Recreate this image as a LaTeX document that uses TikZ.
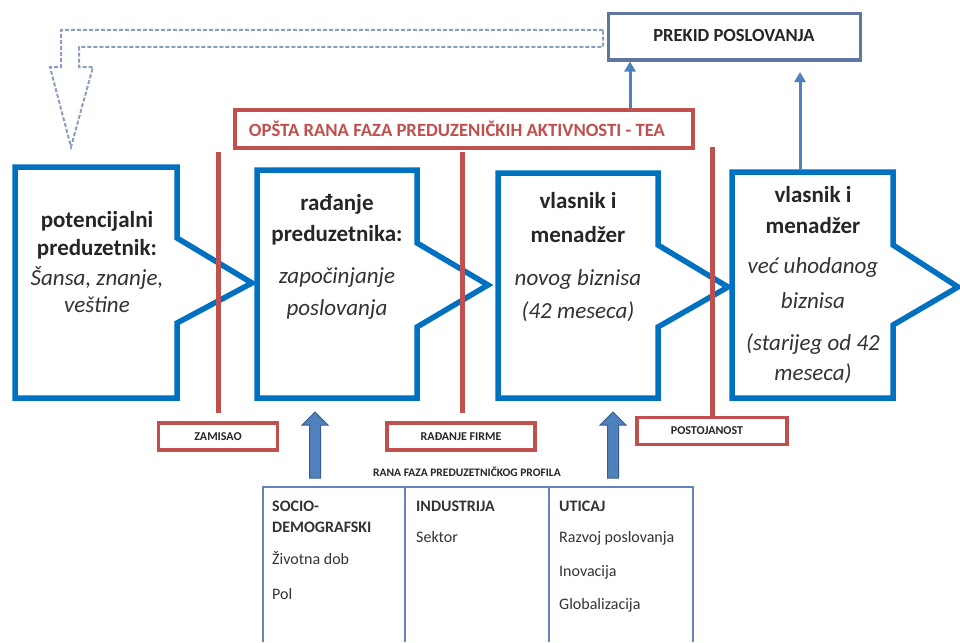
\documentclass[tikz,border=0pt]{standalone}
\usepackage{fontspec}
\setmainfont{Carlito}
\usetikzlibrary{arrows.meta,calc}
\definecolor{bbox}{RGB}{0,112,192}
\definecolor{rd}{RGB}{192,80,77}
\definecolor{stl}{RGB}{79,129,189}
\definecolor{stldark}{RGB}{56,93,138}
\definecolor{gry}{RGB}{96,118,160}
\definecolor{dsh}{RGB}{140,158,190}
\definecolor{tbl}{RGB}{100,130,190}
\begin{document}
\begin{tikzpicture}[x=1pt,y=-1pt,
  bluebox/.style={draw=bbox, line width=5.5pt, fill=white, line join=miter},
  redline/.style={draw=rd, line width=5pt},
  redbox/.style={draw=rd, line width=4pt, fill=white, inner sep=0pt},
  lbl/.style={redbox, line width=3.5pt, font=\fontsize{12}{14}\selectfont\bfseries, text=black!85},
  hd/.style={font=\fontsize{23}{28}\selectfont\bfseries, inner sep=0pt, text height=17pt, text depth=6pt, text=black!85},
  itx/.style={font=\fontsize{23}{28}\selectfont\itshape, inner sep=0pt, text height=17pt, text depth=6pt, text=black!80},
  tt/.style={font=\fontsize{16}{19}\selectfont, inner sep=0pt, anchor=west, text height=12pt, text depth=4pt, text=black!80},
  th/.style={tt, font=\fontsize{16}{19}\selectfont\bfseries},
  thinarrow/.style={draw=stl, line width=3pt, -{Triangle[length=10pt,width=11pt]}},
  blockarrow/.style={fill=stl, draw=stldark, line width=1pt, line join=miter}
]
\useasboundingbox (0,0) rectangle (960,642);

% dashed hollow return arrow
\draw[dsh, line width=2pt, dash pattern=on 4pt off 2pt]
  (603,30) -- (61,30) -- (61,67) -- (50,67) -- (71,147) -- (93,67) -- (79,67) -- (79,47) -- (603,47) -- cycle;

% PREKID POSLOVANJA
\node[draw=gry, line width=3pt, fill=white, minimum width=252pt, minimum height=46pt, inner sep=0pt,
  font=\fontsize{18.5}{21}\selectfont\bfseries, text=black!85] (prekid) at (734,37) {\raisebox{4pt}{PREKID POSLOVANJA}};

% TEA box
\node[redbox, line width=4.5pt, minimum width=458pt, minimum height=38pt,
  font=\fontsize{18.7}{21}\selectfont\bfseries, text=rd] (tea) at (464,129) {\kern-14pt OPŠTA RANA FAZA PREDUZENIČKIH AKTIVNOSTI - TEA};

% blue stage shapes
\draw[bluebox] (15,167) -- (177,167) -- (177,238) -- (252,283) -- (177,323) -- (177,398) -- (15,398) -- cycle;
\draw[bluebox] (257,170) -- (417,170) -- (417,243) -- (488,285) -- (417,327) -- (417,398) -- (257,398) -- cycle;
\draw[bluebox] (498,173) -- (658,173) -- (658,245) -- (728,287) -- (658,327) -- (658,398) -- (498,398) -- cycle;
\draw[bluebox] (732,172) -- (893,172) -- (893,245) -- (958,287) -- (893,325) -- (893,398) -- (732,398) -- cycle;

% stage texts
\node[hd]  (t1a) at (97,222) {potencijalni};
\node[hd]  (t1b) at (97,250) {preduzetnik:};
\node[itx] (t1c) at (97,280) {Šansa, znanje,};
\node[itx] (t1d) at (97,307) {veštine};

\node[hd]  (t2a) at (337,205) {rađanje};
\node[hd]  (t2b) at (337,236) {preduzetnika:};
\node[itx] (t2c) at (337,278) {započinjanje};
\node[itx] (t2d) at (337,310) {poslovanja};

\node[hd]  (t3a) at (578,203) {vlasnik i};
\node[hd]  (t3b) at (578,237) {menadžer};
\node[itx] (t3c) at (578,280) {novog biznisa};
\node[itx] (t3d) at (578,313) {(42 meseca)};

\node[hd]  (t4a) at (813,197) {vlasnik i};
\node[hd]  (t4b) at (813,228) {menadžer};
\node[itx] (t4c) at (813,268) {već uhodanog};
\node[itx] (t4d) at (813,303) {biznisa};
\node[itx] (t4e) at (813,345) {(starijeg od 42};
\node[itx] (t4f) at (813,375) {meseca)};

% red labels
\node[lbl, minimum width=119pt, minimum height=27pt] (zam) at (218,436.5) {ZAMISAO};
\node[lbl, minimum width=148pt, minimum height=27pt] (rad) at (461,436.5) {RAĐANJE FIRME};
\node[lbl, minimum width=150pt, minimum height=27pt] (post) at (712,431) {\kern-10pt POSTOJANOST};

% red phase lines
\coordinate (r1t) at (218,152);
\coordinate (r1b) at (218,413);
\coordinate (r2t) at (462,152);
\coordinate (r2b) at (462,413);
\coordinate (r3t) at (712,147);
\draw[redline] (r1t) -- (r1b);
\draw[redline] (r2t) -- (r2b);
\draw[redline] (r3t) -- (post.north);

% thin arrows to PREKID
\coordinate (ax1) at (630,0);
\coordinate (b4t) at (800,170);
\coordinate (b4e) at (800,72);
\draw[thinarrow] (tea.north -| ax1) -- (prekid.south -| ax1);
\draw[thinarrow] (b4t) -- (b4e);

% profile caption
\node[font=\fontsize{11.5}{13}\selectfont\bfseries, text=black!85, inner sep=0pt] (cap) at (467,472) {RANA FAZA PREDUZETNIČKOG PROFILA};

% block arrows
\draw[blockarrow] (309.5,478) -- (309.5,425) -- (302,425) -- (315,412) -- (328,425) -- (320.5,425) -- (320.5,478) -- cycle;
\draw[blockarrow] (607.5,478) -- (607.5,425) -- (600,425) -- (613,412) -- (626,425) -- (618.5,425) -- (618.5,478) -- cycle;

% table
\draw[tbl, line width=2pt] (263,642) -- (263,487) -- (693,487) -- (693,642);
\draw[tbl, line width=2pt] (405,487) -- (405,642);
\draw[tbl, line width=2pt] (549,487) -- (549,642);

\node[th] (s1) at (272,507) {SOCIO-};
\node[th] (s2) at (272,528) {DEMOGRAFSKI};
\node[tt] (s3) at (272,560) {Životna dob};
\node[tt] (s4) at (272,595) {Pol};

\node[th] (i1) at (416,507) {INDUSTRIJA};
\node[tt] (i2) at (416,538) {Sektor};

\node[th] (u1) at (559,507) {UTICAJ};
\node[tt] (u2) at (559,538) {Razvoj poslovanja};
\node[tt] (u3) at (559,572) {Inovacija};
\node[tt] (u4) at (559,605) {Globalizacija};
\end{tikzpicture}
\end{document}
